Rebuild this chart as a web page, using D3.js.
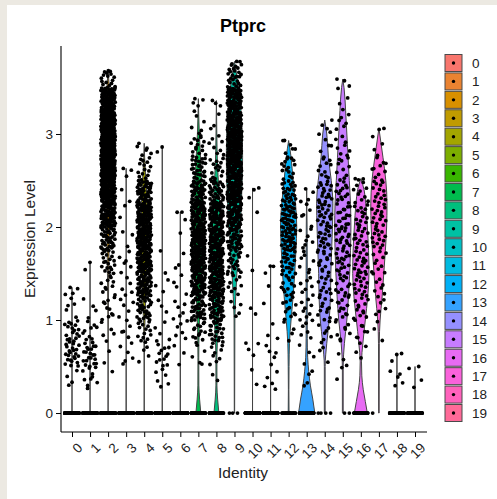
<!DOCTYPE html>
<html><head><meta charset="utf-8">
<script src="https://cdn.jsdelivr.net/npm/d3@7/dist/d3.min.js"></script>
<style>
html,body{margin:0;padding:0;background:#fff;}
svg{display:block;font-family:"Liberation Sans",Arial,Helvetica,sans-serif;}
</style></head><body>
<svg id="chart" width="497" height="499"></svg>
<script>
// ---------------- data ----------------
const title = "Ptprc";
const categories = ["0","1","2","3","4","5","6","7","8","9","10","11","12","13","14","15","16","17","18","19"];
const colors = ["#F8766D","#EA8331","#D89000","#C09B00","#A3A500","#7CAE00","#39B600","#00BB4E","#00BF7D","#00C1A3",
                "#00BFC4","#00BAE0","#00B0F6","#35A2FF","#9590FF","#C77CFF","#E76BF3","#FA62DB","#FF62BC","#FF6A98"];
const yTicks = [0, 1, 2, 3];
// maximum expression per cluster (top of violin)
const maxValues = [1.35,1.62,3.68,2.63,2.9,2.86,2.16,3.38,3.36,3.78,2.42,1.58,2.93,2.41,3.15,3.59,2.52,3.06,0.64,0.5];
// number of cells with zero expression per cluster
const zeroCounts = [200,200,200,200,150,200,200,80,60,3,200,200,25,80,4,2,40,1,150,150];
// counts of non-zero cells per 0.25-wide expression bin (0-0.25, 0.25-0.5, ... 3.75-4.0)
const binWidth = 0.25;
const binCounts = [
  [0,4,22,18,5,3,0,0,0,0,0,0,0,0,0,0],
  [0,10,20,10,4,0,1,0,0,0,0,0,0,0,0,0],
  [0,1,2,5,10,10,20,40,70,90,110,120,110,80,15,0],
  [0,0,5,6,5,5,6,3,2,2,2,0,0,0,0,0],
  [0,0,4,15,30,50,65,75,70,50,15,5,0,0,0,0],
  [0,6,12,5,3,3,2,0,0,0,0,1,0,0,0,0],
  [0,0,3,6,6,4,3,1,2,0,0,0,0,0,0,0],
  [0,0,5,15,35,55,65,70,60,45,30,15,6,3,0,0],
  [0,2,8,25,40,55,65,65,55,35,15,8,3,2,0,0],
  [0,0,0,0,5,10,20,40,60,75,85,90,80,60,25,2],
  [0,2,3,1,2,0,2,0,1,2,0,0,0,0,0,0],
  [0,5,5,3,1,1,2,0,0,0,0,0,0,0,0,0],
  [0,0,0,4,12,15,25,35,35,25,15,6,0,0,0,0],
  [0,4,4,6,8,7,7,7,5,3,0,0,0,0,0,0],
  [0,0,3,8,12,12,14,18,20,18,10,6,3,0,0,0],
  [0,2,3,8,12,14,17,18,17,14,10,8,6,4,2,0],
  [0,0,3,8,12,16,18,16,14,10,2,0,0,0,0,0],
  [0,0,0,3,5,8,10,14,16,14,10,4,1,0,0,0],
  [0,5,2,0,0,0,0,0,0,0,0,0,0,0,0,0],
  [0,3,0,0,0,0,0,0,0,0,0,0,0,0,0,0]
];
// violin outline: [expression, relative width] (null = thin line only)
const violinShapes = [
  null, null,
  [[0,0],[1.0,0.02],[1.5,0.08],[2.0,0.16],[2.5,0.3],[3.0,0.4],[3.25,0.32],[3.5,0.15],[3.68,0]],
  null,
  [[0,0],[0.75,0.03],[1.0,0.1],[1.5,0.25],[2.0,0.35],[2.25,0.35],[2.5,0.2],[2.75,0.05],[2.9,0]],
  null, null,
  [[0,0.3],[0.15,0.15],[0.3,0.06],[0.6,0.05],[0.9,0.1],[1.2,0.25],[1.5,0.45],[1.8,0.55],[2.1,0.55],[2.4,0.45],[2.7,0.3],[3.0,0.12],[3.38,0]],
  [[0,0.3],[0.15,0.15],[0.3,0.06],[0.6,0.06],[0.9,0.2],[1.2,0.4],[1.5,0.5],[1.8,0.55],[2.1,0.5],[2.4,0.3],[2.7,0.12],[3.0,0.05],[3.36,0]],
  [[0,0.02],[1.0,0.05],[1.25,0.15],[1.5,0.3],[1.75,0.5],[2.0,0.7],[2.25,0.85],[2.5,0.95],[2.75,1.0],[3.0,0.95],[3.25,0.8],[3.5,0.5],[3.78,0]],
  null, null,
  [[0,0.05],[0.25,0.03],[0.5,0.05],[0.75,0.1],[1.0,0.3],[1.25,0.55],[1.5,0.75],[1.75,0.9],[2.0,1.0],[2.25,0.85],[2.5,0.55],[2.75,0.3],[2.93,0]],
  [[0,1.0],[0.15,0.75],[0.3,0.45],[0.45,0.25],[0.6,0.12],[0.8,0.07],[1.5,0.07],[2.0,0.05],[2.41,0]],
  [[0,0.05],[0.5,0.05],[0.75,0.25],[1.0,0.55],[1.25,0.7],[1.5,0.75],[1.75,0.85],[2.0,0.95],[2.25,1.0],[2.5,0.8],[2.75,0.45],[3.0,0.25],[3.15,0]],
  [[0,0.05],[0.5,0.05],[0.75,0.2],[1.0,0.5],[1.25,0.7],[1.5,0.85],[1.75,0.95],[2.0,1.0],[2.25,0.95],[2.5,0.8],[2.75,0.65],[3.0,0.5],[3.25,0.35],[3.5,0.15],[3.59,0]],
  [[0,0.8],[0.125,0.55],[0.25,0.3],[0.4,0.12],[0.55,0.08],[0.75,0.25],[1.0,0.55],[1.25,0.85],[1.5,1.0],[1.75,0.95],[2.0,0.8],[2.25,0.6],[2.4,0.4],[2.52,0]],
  [[0,0.03],[0.75,0.05],[1.0,0.15],[1.25,0.4],[1.5,0.6],[1.75,0.8],[2.0,0.95],[2.25,1.0],[2.5,0.85],[2.75,0.5],[3.0,0.1],[3.06,0]],
  null, null
];

// ---------------- layout ----------------
const svg = d3.select("#chart");
svg.append("rect").attr("x",0).attr("y",0).attr("width",497).attr("height",499).attr("fill","#ffffff");
svg.append("rect").attr("x",0).attr("y",0).attr("width",497).attr("height",5).attr("fill","#ece9e2");
svg.append("rect").attr("x",0).attr("y",0).attr("width",7).attr("height",499).attr("fill","#ece9e2");

const x = d3.scalePoint().domain(categories).range([72, 415]);
const step = x.step();
const y = d3.scaleLinear().domain([-0.204, 3.946]).range([432, 46]);

const plot = svg.append("g");

// violins
const area = d3.area()
  .y(d => y(d[0]))
  .curve(d3.curveMonotoneY);
categories.forEach((c, i) => {
  const shape = violinShapes[i] || [[0,0],[maxValues[i],0]];
  const cx = x(c), half = 0.45 * step;
  area.x0(d => cx - d[1]*half).x1(d => cx + d[1]*half);
  plot.append("path")
    .attr("d", area(shape))
    .attr("fill", colors[i])
    .attr("stroke", "#444")
    .attr("stroke-width", 1);
});

// deterministic low-discrepancy layout for jittered points
function halton(k, b){ let f = 1, r = 0; k = k + 1; while (k > 0){ f /= b; r += f * (k % b); k = Math.floor(k / b); } return r; }
const pts = [];
categories.forEach((c, i) => {
  const cx = x(c), jw = 0.4 * step;
  let k = i * 37;
  for (let z = 0; z < zeroCounts[i]; z++, k++)
    pts.push([cx + (halton(k,3)*2-1)*jw, 0]);
  binCounts[i].forEach((n, b) => {
    const lo = b * binWidth, hi = Math.min(lo + binWidth, maxValues[i]);
    for (let j = 0; j < n; j++, k++)
      pts.push([cx + (halton(k,3)*2-1)*jw, lo + halton(k,2)*(hi-lo)]);
  });
  pts.push([cx + (halton(k,3)*2-1)*jw, maxValues[i]]);
});
plot.append("g").selectAll("circle").data(pts).join("circle")
  .attr("cx", d => d[0]).attr("cy", d => y(d[1])).attr("r", 1.9).attr("fill", "#000");

// axes
const axisG = svg.append("g");
axisG.append("line").attr("x1",61).attr("x2",61).attr("y1",46).attr("y2",432).attr("stroke","#000").attr("stroke-width",1.1);
axisG.append("line").attr("x1",61).attr("x2",427).attr("y1",432).attr("y2",432).attr("stroke","#000").attr("stroke-width",1.1);
const yAxis = d3.axisLeft(y).tickValues(yTicks).tickSize(5).tickPadding(3).tickFormat(d3.format("d"));
const yg = svg.append("g").attr("transform","translate(61,0)").call(yAxis);
yg.select(".domain").remove();
yg.selectAll("text").attr("font-size",13.5).attr("fill","#222").style("font-family","'Liberation Sans',Arial,sans-serif");
yg.selectAll("line").attr("stroke","#000");
const xAxis = d3.axisBottom(x).tickSize(5).tickFormat(d => d);
const xg = svg.append("g").attr("transform","translate(0,432)").call(xAxis);
xg.select(".domain").remove();
xg.selectAll("line").attr("stroke","#000");
xg.selectAll("text")
  .attr("font-size",13.5).attr("fill","#222").style("font-family","'Liberation Sans',Arial,sans-serif")
  .attr("text-anchor","end").attr("dy",null).attr("y",null)
  .attr("transform","translate(4,10) rotate(-45)")
  .attr("dominant-baseline","hanging");

// titles
svg.append("text").attr("x",243).attr("y",32).attr("text-anchor","middle")
  .attr("font-size",18).attr("font-weight","bold").attr("fill","#000").text(title);
svg.append("text").attr("x",243).attr("y",478).attr("text-anchor","middle")
  .attr("font-size",15.5).attr("fill","#222").text("Identity");
svg.append("text").attr("transform","translate(35,239) rotate(-90)").attr("text-anchor","middle")
  .attr("font-size",15.5).attr("fill","#222").text("Expression Level");

// legend
const lg = svg.append("g");
const legY = d3.scalePoint().domain(categories).range([63, 413]);
categories.forEach((c, i) => {
  const cy = legY(c);
  lg.append("rect").attr("x",445).attr("y",cy-8.5).attr("width",17).attr("height",17)
    .attr("fill",colors[i]).attr("stroke","#4a4a4a").attr("stroke-width",1);
  lg.append("circle").attr("cx",453.5).attr("cy",cy).attr("r",1.7).attr("fill","#000");
  lg.append("text").attr("x",472).attr("y",cy+4.8).attr("font-size",13.5).attr("fill","#222").text(c);
});
</script>
</body></html>
